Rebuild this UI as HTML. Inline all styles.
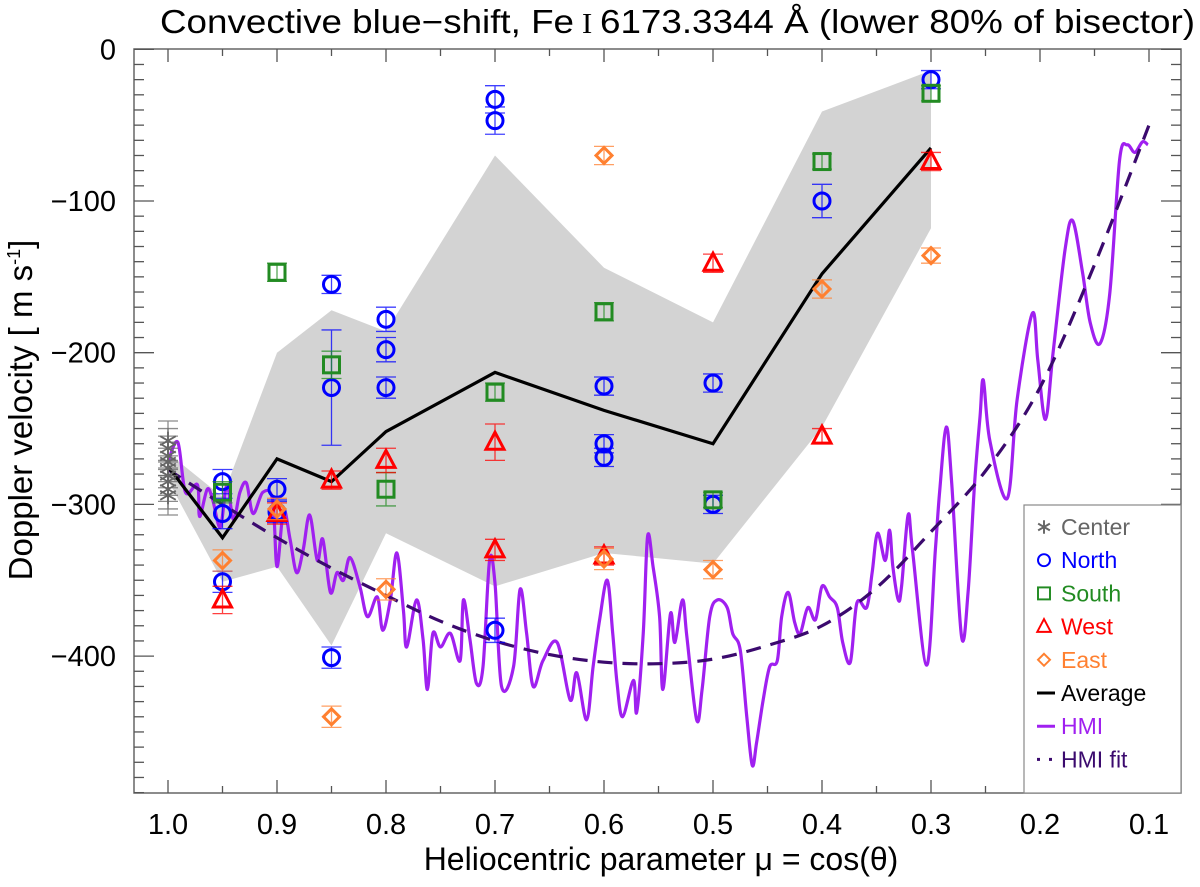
<!DOCTYPE html>
<html><head><meta charset="utf-8"><style>
body{margin:0;background:#fff}
svg text{font-family:"Liberation Sans",sans-serif}
</style></head><body>
<svg id="chart" width="1200" height="882" viewBox="0 0 1200 882" xmlns="http://www.w3.org/2000/svg">
<defs><clipPath id="clip"><rect x="134" y="49" width="1047" height="744"/></clipPath></defs>
<text x="160" y="33" font-size="33" textLength="1035" lengthAdjust="spacingAndGlyphs">Convective blue−shift, Fe<tspan font-family="Liberation Serif" font-size="28"> I </tspan>6173.3344 Å (lower 80% of bisector)</text>
<text x="661" y="870" font-size="32" text-anchor="middle">Heliocentric parameter μ = cos(θ)</text>
<text transform="translate(32,410) rotate(-90)" font-size="33" text-anchor="middle">Doppler velocity [ m s<tspan font-size="18" dy="-12">-1</tspan><tspan dy="12">]</tspan></text>
<g id="band"></g>
<g id="marks" clip-path="url(#clip)"></g>
<g id="axes"></g>
<g id="legend"></g>
</svg>
<script>
const NS='http://www.w3.org/2000/svg';
const muBins=[1.0,0.95,0.9,0.85,0.8,0.7,0.6,0.5,0.4,0.3];
const avgVals=[-275,-322,-270,-285,-252,-213,-238,-260,-148,-65];
const bandUpper=[-266,-295,-200,-172,-186,-70,-144,-180,-41,-14];
const bandLower=[-284,-351,-341,-393,-319,-354,-332,-339,-249,-118];
const centerMu=[1,1,1,1,1,1,1,1,1];
const centerVals=[-258,-263,-268,-272,-276,-281,-285,-290,-294];
const centerErr=[13,13,13,13,13,13,13,13,13];
const northMu=[0.95,0.95,0.95,0.9,0.9,0.85,0.85,0.85,0.8,0.8,0.8,0.7,0.7,0.7,0.6,0.6,0.6,0.5,0.5,0.4,0.3];
const northVals=[-285,-306,-351,-290,-305,-155,-223,-401,-178,-198,-223,-33,-47,-383,-222,-260,-269,-220,-300,-100,-20];
const northErr=[8,10,7,7,7,6,38,7,8,8,7,9,9,8,6,6,6,6,6,11,6];
const southMu=[0.95,0.9,0.85,0.8,0.7,0.6,0.5,0.4,0.3];
const southVals=[-292,-147,-208,-290,-226,-173,-297,-74,-29];
const southErr=[7,6,9,11,6,6,5,5,5];
const westMu=[0.95,0.9,0.85,0.8,0.7,0.7,0.6,0.5,0.4,0.3];
const westVals=[-363,-306,-284,-271,-259,-330,-334,-141,-255,-74];
const westErr=[9,7,6,8,12,7,6,6,5,6];
const eastMu=[0.95,0.9,0.85,0.8,0.6,0.6,0.5,0.4,0.3];
const eastVals=[-337,-303,-440,-356,-70,-336,-343,-158,-136];
const eastErr=[7,7,7,7,6,7,6,6,5];
const hmiMu=[1.000,.991,.984,.973,.971,.964,.959,.952,.946,.940,.934,.928,.922,.913,.904,.900,.894,.888,.882,.876,.870,.863,.858,.851,.845,.839,.833,.824,.817,.808,.803,.796,.790,.784,.781,.772,.766,.762,.757,.750,.741,.732,.729,.723,.717,.711,.705,.700,.694,.683,.677,.671,.665,.656,.643,.631,.625,.616,.610,.604,.597,.592,.588,.583,.573,.570,.564,.560,.555,.549,.546,.539,.535,.528,.524,.515,.510,.503,.496,.487,.482,.475,.469,.464,.460,.454,.448,.441,.437,.431,.425,.420,.413,.406,.400,.393,.386,.381,.374,.368,.359,.354,.349,.342,.338,.335,.330,.327,.321,.317,.304,.296,.292,.286,.281,.272,.266,.260,.255,.252,.246,.230,.221,.207,.202,.195,.188,.177,.170,.161,.154,.145,.136,.127,.120,.113,.106,.101];
const hmiVals=[-272,-259,-292,-287,-308,-290,-297,-315,-287,-310,-292,-286,-306,-292,-297,-341,-304,-323,-345,-330,-307,-337,-323,-358,-345,-350,-335,-354,-374,-361,-383,-363,-332,-370,-394,-363,-389,-422,-385,-394,-385,-403,-363,-389,-418,-407,-337,-352,-420,-407,-356,-385,-420,-403,-391,-429,-411,-442,-407,-376,-350,-385,-418,-440,-416,-437,-385,-321,-341,-374,-422,-372,-391,-363,-387,-442,-422,-374,-363,-368,-385,-396,-440,-472,-457,-429,-407,-403,-374,-358,-378,-385,-368,-376,-354,-361,-368,-391,-404,-365,-368,-345,-319,-337,-317,-341,-363,-354,-307,-330,-406,-330,-291,-249,-286,-387,-358,-286,-242,-218,-258,-296,-231,-174,-205,-244,-200,-132,-113,-147,-180,-194,-161,-73,-63,-68,-61,-63];
const fitMu=[1.0,0.95,0.9,0.85,0.8,0.75,0.7,0.65,0.6,0.55,0.5,0.45,0.4,0.35,0.3,0.25,0.2,0.15,0.1];
const fitVals=[-277,-300,-322,-342,-360,-377,-390,-399,-404,-405,-402,-393,-380,-355,-318,-278,-223,-142,-50];
const xTickVals=[1.0,0.9,0.8,0.7,0.6,0.5,0.4,0.3,0.2,0.1];
const xTickLabels=['1.0','0.9','0.8','0.7','0.6','0.5','0.4','0.3','0.2','0.1'];
const yTickVals=[0,-100,-200,-300,-400];
const yTickLabels=['0','−100','−200','−300','−400'];

const L=134,R=1181,T=49,B=793;
const X=mu=>168+(1-mu)*1090;
const Y=v=>49.3-v*1.517;
function mk(tag,attrs,parent){const e=document.createElementNS(NS,tag);for(const k in attrs)e.setAttribute(k,attrs[k]);parent.appendChild(e);return e;}
const marks=document.getElementById('marks'),axes=document.getElementById('axes'),band=document.getElementById('band'),legend=document.getElementById('legend');

let pts=muBins.map((m,i)=>X(m)+','+Y(bandUpper[i]));
for(let i=muBins.length-1;i>=0;i--)pts.push(X(muBins[i])+','+Y(bandLower[i]));
const poly=mk('polygon',{points:pts.join(' '),fill:'#d3d3d3'},band);



function smooth(xs,ys){let d='M'+xs[0]+','+ys[0];for(let i=0;i<xs.length-1;i++){const x0=xs[Math.max(i-1,0)],y0=ys[Math.max(i-1,0)],x1=xs[i],y1=ys[i],x2=xs[i+1],y2=ys[i+1],x3=xs[Math.min(i+2,xs.length-1)],y3=ys[Math.min(i+2,xs.length-1)];d+=' C'+(x1+(x2-x0)/6)+','+(y1+(y2-y0)/6)+' '+(x2-(x3-x1)/6)+','+(y2-(y3-y1)/6)+' '+x2+','+y2;}return d;}
const hmi=mk('path',{d:smooth(hmiMu.map(X),hmiVals.map(Y)),fill:'none',stroke:'#a020f0','stroke-width':3.2,'stroke-linejoin':'round'},marks);


const fit=mk('path',{d:smooth(fitMu.map(X),fitVals.map(Y)),fill:'none',stroke:'#3b0a6e','stroke-width':3.2,'stroke-dasharray':'15 10'},marks);


const avg=mk('polyline',{points:muBins.map((m,i)=>X(m)+','+Y(avgVals[i])).join(' '),fill:'none',stroke:'#000','stroke-width':3.2},marks);



function errbar(x,v,e,col){const g=mk('g',{stroke:col,'stroke-width':1.3,opacity:0.75},marks);mk('line',{x1:x,x2:x,y1:Y(v+e),y2:Y(v-e)},g);mk('line',{x1:x-10,x2:x+10,y1:Y(v+e),y2:Y(v+e)},g);mk('line',{x1:x-10,x2:x+10,y1:Y(v-e),y2:Y(v-e)},g);return g;}
function marker(kind,x,y,col,parent){let e;
 if(kind==='circle')e=mk('circle',{cx:x,cy:y,r:8,fill:'none',stroke:col,'stroke-width':3},parent);
 else if(kind==='square')e=mk('rect',{x:x-8,y:y-8,width:16,height:16,fill:'none',stroke:col,'stroke-width':3},parent);
 else if(kind==='tri')e=mk('polygon',{points:`${x},${y-10} ${x-9},${y+7} ${x+9},${y+7}`,fill:'none',stroke:col,'stroke-width':3},parent);
 else if(kind==='diamond')e=mk('polygon',{points:`${x},${y-8} ${x+8},${y} ${x},${y+8} ${x-8},${y}`,fill:'none',stroke:col,'stroke-width':3},parent);
 else {e=mk('g',{stroke:col,'stroke-width':1.8},parent);for(let a=0;a<3;a++){const an=a*Math.PI/3+Math.PI/2;mk('line',{x1:x-9*Math.cos(an),y1:y-9*Math.sin(an),x2:x+9*Math.cos(an),y2:y+9*Math.sin(an)},e);}}
 return e;}
const series=[['center','star','#666',centerMu,centerVals,centerErr],['north','circle','#0000ff',northMu,northVals,northErr],['south','square','#228b22',southMu,southVals,southErr],['west','tri','#ff0000',westMu,westVals,westErr],['east','diamond','#ff8030',eastMu,eastVals,eastErr]];
series.forEach(s=>{s[3].forEach((m,i)=>{const eb=errbar(X(m),s[4][i],s[5][i],s[2]);const p=marker(s[1],X(m),Y(s[4][i]),s[2],marks);});});

const box=mk('rect',{x:L,y:T,width:R-L,height:B-T,fill:'none',stroke:'#666','stroke-width':1.5},axes);


for(let k=0;k<=19;k++){const m=1.0-k*0.05;const x=X(m);if(x>R)break;const len=k%2===0?13:7;mk('line',{x1:x,x2:x,y1:B,y2:B-len,stroke:'#555','stroke-width':1.3},axes);mk('line',{x1:x,x2:x,y1:T,y2:T+len,stroke:'#555','stroke-width':1.3},axes);}
for(let v=0;v>=-490;v-=10){const y=Y(v);if(y>B)break;const len=v%100===0?20:10;mk('line',{x1:L,x2:L+len,y1:y,y2:y,stroke:'#555','stroke-width':1.3},axes);mk('line',{x1:R,x2:R-len,y1:y,y2:y,stroke:'#555','stroke-width':1.3},axes);}
xTickVals.forEach((m,i)=>{const t=mk('text',{x:X(m),y:834,'font-size':29,'text-anchor':'middle'},axes);t.textContent=xTickLabels[i];});
yTickVals.forEach((v,i)=>{const t=mk('text',{x:116,y:Y(v)+10,'font-size':29,'text-anchor':'end'},axes);t.textContent=yTickLabels[i];});

const lb=mk('rect',{x:1024,y:505,width:157,height:288,fill:'#fff',stroke:'#888','stroke-width':1.2},legend);


const leg=[['Center','star','#666'],['North','circle','#0000ff'],['South','square','#228b22'],['West','tri','#ff0000'],['East','diamond','#ff8030'],['Average','line','#000'],['HMI','line','#a020f0'],['HMI fit','dots','#3b0a6e']];
leg.forEach((e,i)=>{const y=527+i*33.2;const g=mk('g',{},legend);
 if(e[1]==='line')mk('line',{x1:1037,x2:1055,y1:y,y2:y,stroke:e[2],'stroke-width':3},g);
 else if(e[1]==='dots'){mk('rect',{x:1037,y:y-1.5,width:3,height:3,fill:e[2]},g);mk('rect',{x:1049,y:y-1.5,width:3,height:3,fill:e[2]},g);}
 else {const s=mk('g',{transform:`translate(${1044},${y}) scale(0.75) translate(${-1044},${-y})`},g);marker(e[1],1044,y,e[2],s).setAttribute('stroke-width',2.6);}
 const t=mk('text',{x:1061,y:y+8,'font-size':23,fill:e[2]},g);t.textContent=e[0];});
</script>
</body></html>
